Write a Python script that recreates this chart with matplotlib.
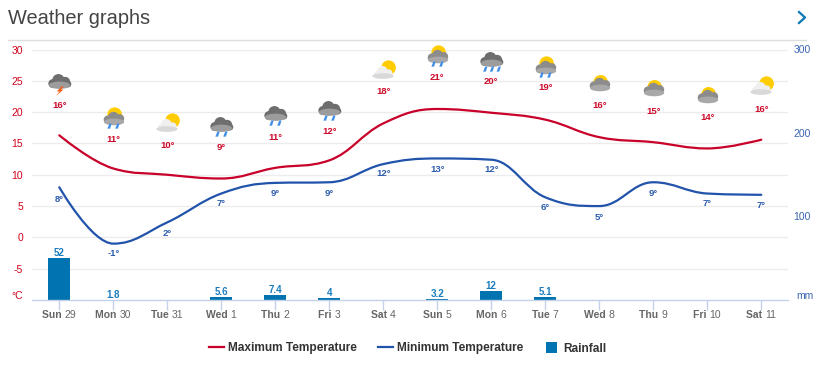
import matplotlib
matplotlib.use("Agg")
import matplotlib.pyplot as plt
from matplotlib.path import Path
from matplotlib.patches import PathPatch, Circle, Ellipse, Polygon, Rectangle
from matplotlib.lines import Line2D
from matplotlib.legend_handler import HandlerBase
from matplotlib.transforms import Affine2D, blended_transform_factory

plt.rcParams['font.family'] = ['Liberation Sans', 'DejaVu Sans']

# ---- data
days = ['Sun', 'Mon', 'Tue', 'Wed', 'Thu', 'Fri', 'Sat', 'Sun', 'Mon', 'Tue', 'Wed', 'Thu', 'Fri', 'Sat']
dates = ['29', '30', '31', '1', '2', '3', '4', '5', '6', '7', '8', '9', '10', '11']
max_temp = [16.3, 11.0, 10.0, 9.4, 11.1, 12.3, 18.2, 20.5, 19.9, 18.8, 16.0, 15.2, 14.2, 15.6]
min_temp = [8.0, -1.0, 2.4, 7.0, 8.7, 8.8, 11.7, 12.6, 12.4, 6.4, 5.0, 8.8, 7.0, 6.8]
max_labels = ['16°', '11°', '10°', '9°', '11°', '12°', '18°', '21°', '20°', '19°', '16°', '15°', '14°', '16°']
min_labels = ['8°', '-1°', '2°', '7°', '9°', '9°', '12°', '13°', '12°', '6°', '5°', '9°', '7°', '7°']
rain_days = [0, 1, 3, 4, 5, 7, 8, 9]
rain_mm = [52, 1.8, 5.6, 7.4, 4, 3.2, 12, 5.1]
rain_labels = ['52', '1.8', '5.6', '7.4', '4', '3.2', '12', '5.1']
temp_ticks = [30, 25, 20, 15, 10, 5, 0, -5]
mm_ticks = [300, 200, 100]
icons = ['storm', 'rainsun', 'suncloud', 'rain', 'rain', 'rain', 'suncloud', 'rainsun',
         'rain3', 'rainsun', 'cloudsun', 'cloudsun', 'cloudsun', 'suncloud']

# ---- layout (pixels from the top of the picture)
max_label_y = [105, 139, 145, 147, 137, 132, 91, 77, 82, 88, 105, 111, 117, 109]
min_label_y = [199, 254, 234, 204, 194, 193, 174, 169, 170, 208, 217, 193, 204, 205]
icon_y = [83, 118, 124, 126, 115, 110, 71, 56, 61, 67, 84, 89, 96, 87]

W, H = 826, 370
RED = '#d0021b'
LINE_RED = '#c8002a'
BLUE = '#2153ab'
AXBLUE = '#3a63b5'
BAR = '#0073b0'
BARTXT = '#1a7cbd'
GRID = '#ececec'
AXIS = '#c3d2ea'

fig = plt.figure(figsize=(W / 100, H / 100), dpi=100, facecolor='white')
L, R, T, B = 32.3, 788.3, 49.5, 300
ax = fig.add_axes([L / W, 1 - B / H, (R - L) / W, (B - T) / H])
ax.set_xlim(-0.5, 13.5)
ax.set_ylim(-10, 30)
ax.set_yticks(temp_ticks)
ax.set_yticklabels([str(t) for t in temp_ticks], color=RED, fontsize=7.5, va='center_baseline')
ax.tick_params(axis='y', length=0, pad=6.5)
ax.grid(axis='y', color=GRID, lw=1)
ax.set_axisbelow(True)
for s in ['top', 'left', 'right', 'bottom']:
    ax.spines[s].set_visible(False)
ax.set_xticks(range(len(days)))
ax.set_xticklabels([])
ax.tick_params(axis='x', length=7, color=AXIS, width=1)

ax2 = ax.twinx()
ax2.set_ylim(0, 300)
ax2.set_yticks(mm_ticks)
ax2.set_yticklabels([str(t) for t in mm_ticks], color=AXBLUE, fontsize=7.5, va='center_baseline')
ax2.tick_params(axis='y', length=0, pad=3.5)
for k, s in ax2.spines.items():
    s.set_visible(k == 'bottom')
ax2.spines['bottom'].set_color(AXIS)
ax2.spines['bottom'].set_linewidth(1)
ax2.spines['bottom'].set_zorder(5)


def spline(xs, ys):
    """Smooth path through the values, with the curve kept from overshooting them."""
    n = len(xs)
    ctrl = []
    for i in range(n):
        x, y = xs[i], ys[i]
        if i == 0 or i == n - 1:
            ctrl.append(((x, y), (x, y)))
            continue
        lx = (1.5 * x + xs[i - 1]) / 2.5
        ly = (1.5 * y + ys[i - 1]) / 2.5
        rx = (1.5 * x + xs[i + 1]) / 2.5
        ry = (1.5 * y + ys[i + 1]) / 2.5
        c = (ry - ly) * (rx - x) / (rx - lx)
        ly = y + c - (ry - ly)
        ry = y + c
        prev, nxt = ys[i - 1], ys[i + 1]
        if ly > prev and ly > y:
            ly = max(prev, y)
            ry = 2 * y - ly
        elif ly < prev and ly < y:
            ly = min(prev, y)
            ry = 2 * y - ly
        if ry > nxt and ry > y:
            ry = max(nxt, y)
            ly = 2 * y - ry
        elif ry < nxt and ry < y:
            ry = min(nxt, y)
            ly = 2 * y - ry
        ctrl.append(((lx, ly), (rx, ry)))
    verts = [(xs[0], ys[0])]
    codes = [Path.MOVETO]
    for i in range(1, n):
        verts += [ctrl[i - 1][1], ctrl[i][0], (xs[i], ys[i])]
        codes += [Path.CURVE4] * 3
    return Path(verts, codes)


xs = list(range(len(days)))
ax.add_patch(PathPatch(spline(xs, max_temp), fc='none', ec=LINE_RED, lw=1.6, capstyle='round'))
ax.add_patch(PathPatch(spline(xs, min_temp), fc='none', ec=BLUE, lw=1.6, capstyle='round'))
bars = ax2.bar(rain_days, rain_mm, width=0.41, color=BAR, zorder=3)
for b in bars:
    b.set_transform(ax2.transData + Affine2D().translate(0, -1.2))

px_y = blended_transform_factory(ax.transData, Affine2D().scale(1, -1).translate(0, H))
for x, lab, y in zip(xs, max_labels, max_label_y):
    ax.text(x, y, lab, transform=px_y, color='#cc0a2a', fontsize=6.8, fontweight='bold',
            ha='center', va='center', zorder=6)
for x, lab, y in zip(xs, min_labels, min_label_y):
    ax.text(x, y, lab, transform=px_y, color='#2c5cae', fontsize=6.8, fontweight='bold',
            ha='center', va='center', zorder=6)
for x, v, lab in zip(rain_days, rain_mm, rain_labels):
    ax2.annotate(lab, (x, v), xytext=(0, 3.5), textcoords='offset pixels', color=BARTXT,
                 fontsize=7, fontweight='bold', ha='center', va='center', zorder=6)

fig.text(22.5 / W, 1 - 296 / H, '°C', color=RED, fontsize=7.5, ha='right', va='center')
fig.text(796 / W, 1 - 296 / H, 'mm', color=AXBLUE, fontsize=7.5, ha='left', va='center')

# x labels: bold day + regular date, centred together on the tick
rend = fig.canvas.get_renderer()
for x, d, n in zip(xs, days, dates):
    a = ax.text(x, 318, d + '\u00a0', transform=px_y, fontsize=7.5, fontweight='bold', color='#666666',
                ha='right', va='baseline')
    b = ax.text(x, 318, n, transform=px_y, fontsize=7.5, color='#666666', ha='left', va='baseline')
    shift = (a.get_window_extent(rend).width - b.get_window_extent(rend).width) / 2
    tr = px_y + Affine2D().translate(shift, 0)
    a.set_transform(tr)
    b.set_transform(tr)

# title strip
fig.text(8 / W, 1 - 18.5 / H, 'Weather graphs', fontsize=14.4, color='#444444', ha='left', va='center')
fig.add_artist(Line2D([8 / W, 806 / W], [1 - 39.5 / H] * 2, color='#dddddd', lw=1))
fig.add_artist(Line2D([799 / W, 805 / W, 799 / W], [1 - 12 / H, 1 - 17.5 / H, 1 - 23 / H],
                      color='#0a78b4', lw=1.6))


# icons in pixel space
def add_icon(kind, cx, cy):
    tr = Affine2D().scale(1.12).translate(cx, H - cy)

    def P(p, z=8):
        p.set_transform(tr)
        p.set_zorder(z)
        p.set_clip_on(False)
        fig.add_artist(p)

    def sun(dx, dy, r):
        P(Circle((dx, dy), r, fc='#ffcc00', ec='none'))

    def dark_cloud(top='#6e6e6e', low='#9c9c9c'):
        for (dx, dy, r) in [(-6.5, -0.5, 4), (-1.5, 2.5, 5.5), (4.5, 1, 4.5), (7, -1, 3)]:
            P(Circle((dx, dy), r, fc=top, ec='none'))
        P(Ellipse((-0.5, -2), 19, 6.5, fc=low, ec='none'))

    def grey_cloud():
        for (dx, dy, r) in [(-5.5, -1.5, 3.8), (-0.5, 0.5, 5), (5, -0.5, 4)]:
            P(Circle((dx, dy), r, fc='#8c8c8c', ec='none'))
        P(Ellipse((0, -3.5), 18, 6, fc='#a8a8a8', ec='none'))

    def light_cloud():
        for (dx, dy, r) in [(-5.5, -3, 3.5), (-1.5, 0, 4.5), (4, -2, 3.5)]:
            P(Circle((dx, dy), r, fc='#efefef', ec='none'))
        P(Ellipse((-1, -4.5), 19, 5, fc='#d8d8d8', ec='none'))

    def drops(n=2):
        offs = [-4, 3] if n == 2 else [-6, 0, 6]
        for dx in offs:
            P(Polygon([(dx + 1.8, -5), (dx + 0.4, -9.5), (dx - 2, -9.5), (dx - 0.2, -5)], fc='#3d8fe8', ec='none'))

    if kind == 'storm':
        dark_cloud()
        P(Polygon([(1.5, -3), (-3, -7.5), (-0.5, -7.5), (-3.5, -11.5), (3, -5.8), (0.5, -5.8), (3.5, -3)],
                  fc='#f25a12', ec='none'))
    elif kind == 'rainsun':
        sun(0.5, 3, 6.5)
        grey_cloud()
        drops(2)
    elif kind == 'suncloud':
        sun(4, 3, 6.5)
        light_cloud()
    elif kind == 'rain':
        dark_cloud()
        drops(2)
    elif kind == 'rain3':
        dark_cloud()
        drops(3)
    elif kind == 'cloudsun':
        sun(0.5, 1.5, 6.5)
        grey_cloud()


for i, k in enumerate(icons):
    cx = ax.transData.transform((i, 0))[0] + 0.8
    add_icon(k, cx, icon_y[i])


class SquareHandler(HandlerBase):
    def create_artists(self, legend, orig, xd, yd, width, height, fontsize, trans):
        s = 8.0
        r = Rectangle((width - s - xd - 1.4, (height - s) / 2 - yd), s, s, fc=orig.get_color(), ec='none', transform=trans)
        return [r]


# legend
handles = [Line2D([], [], color=LINE_RED, lw=1.6),
           Line2D([], [], color=BLUE, lw=1.6),
           Line2D([], [], color=BAR)]
leg = fig.legend(handles, ['Maximum Temperature', 'Minimum Temperature', 'Rainfall'],
                 loc='center', bbox_to_anchor=(408 / W, 1 - 348.5 / H), ncol=3, frameon=False,
                 handlelength=1.2, handletextpad=0.4, columnspacing=1.75,
                 prop={'size': 8.6, 'weight': 'bold'}, labelcolor='#333333', borderpad=0, borderaxespad=0,
                 handler_map={handles[2]: SquareHandler()})

fig.savefig('out.png', dpi=100, facecolor='white')
